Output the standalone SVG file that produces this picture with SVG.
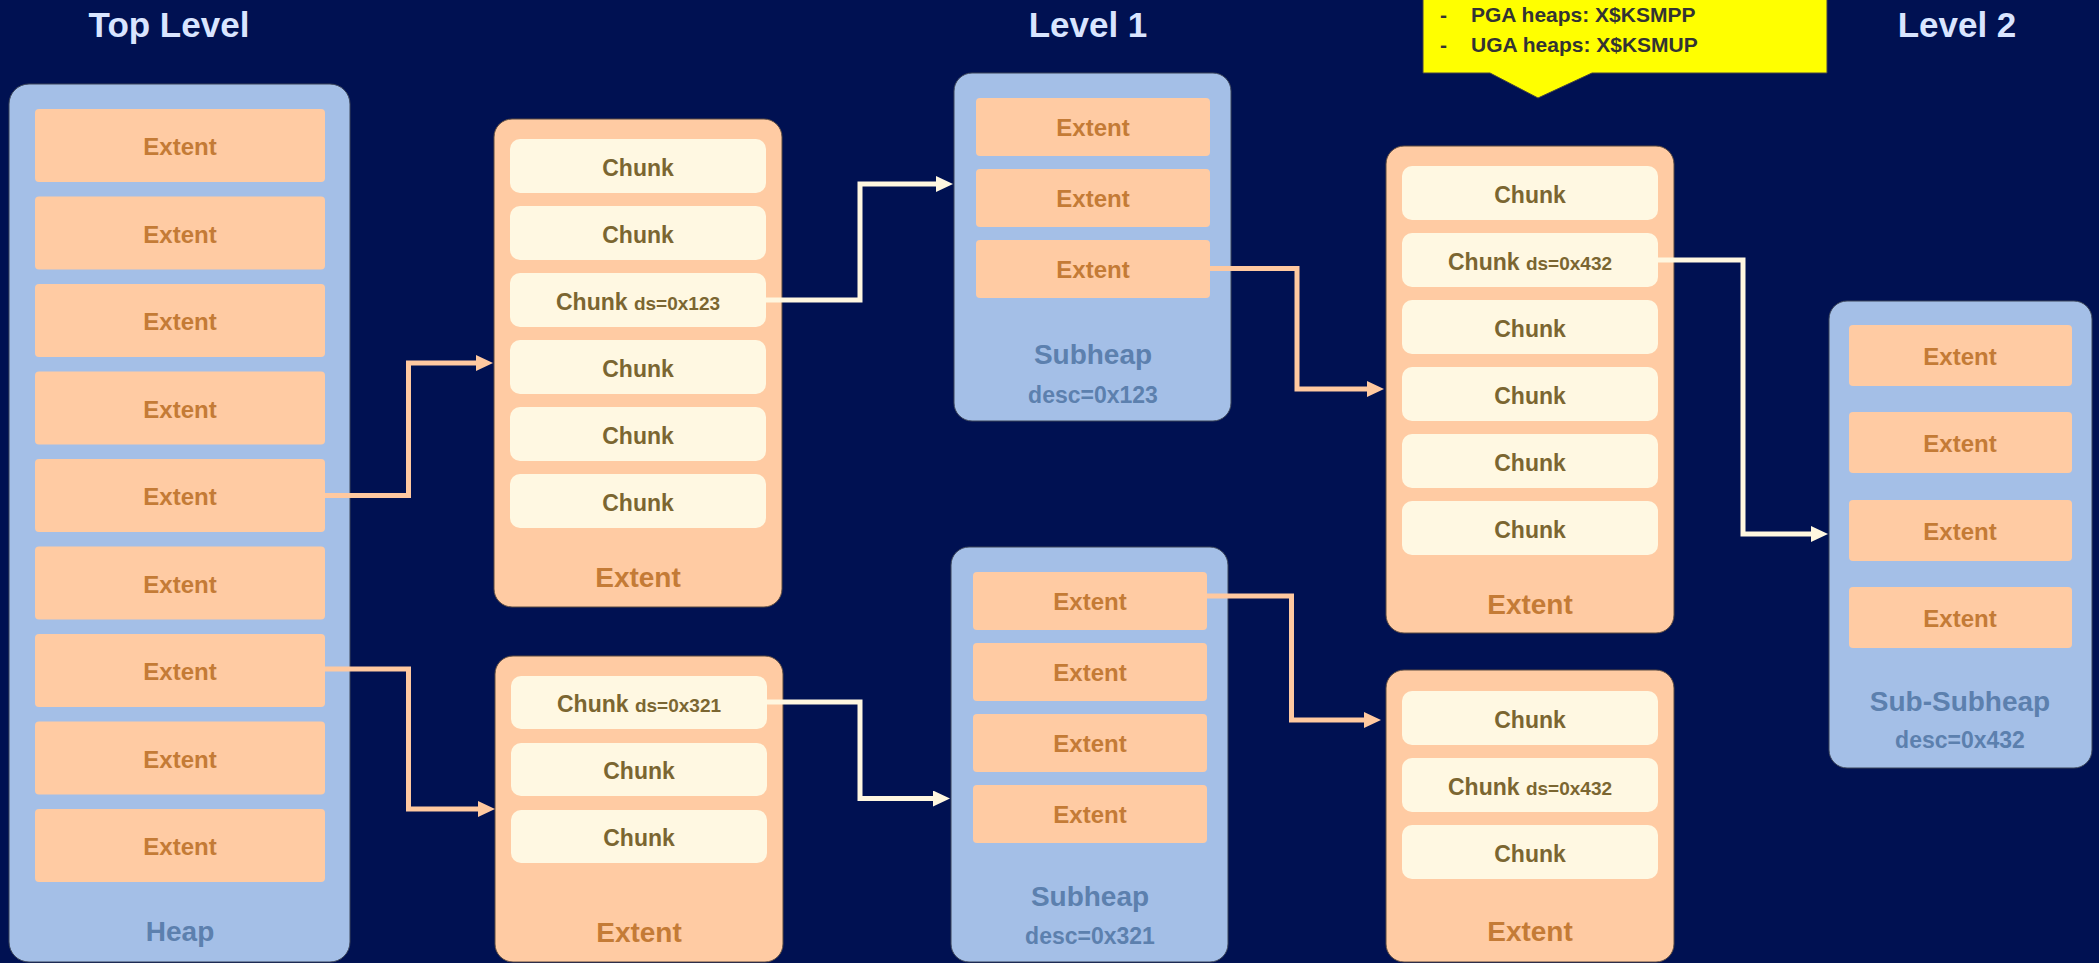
<svg xmlns="http://www.w3.org/2000/svg" width="2099" height="963" viewBox="0 0 2099 963">
<defs>
<style>
.bg{fill:#001152}
.title{font-family:"Liberation Sans",Arial,sans-serif;font-weight:bold;font-size:35px;fill:#D9E5FF;text-anchor:middle}
.heap{fill:#A4BFE7;stroke:#3a4458;stroke-width:1}
.ext{fill:#FFCBA3}
.ebox{fill:#FFCBA3;stroke:#5a4a40;stroke-width:1}
.chunk{fill:#FFF8E2}
.et{font-family:"Liberation Sans",Arial,sans-serif;font-weight:bold;font-size:24px;fill:#C47B36;text-anchor:middle}
.eb{font-family:"Liberation Sans",Arial,sans-serif;font-weight:bold;font-size:28px;fill:#C47B36;text-anchor:middle}
.ct{font-family:"Liberation Sans",Arial,sans-serif;font-weight:bold;font-size:23px;fill:#7B6631;text-anchor:middle}
.ds{font-size:19px}
.ht{font-family:"Liberation Sans",Arial,sans-serif;font-weight:bold;font-size:28px;fill:#5C80AE;text-anchor:middle}
.hd{font-family:"Liberation Sans",Arial,sans-serif;font-weight:bold;font-size:23px;fill:#5C80AE;text-anchor:middle}
.yt{font-family:"Liberation Sans",Arial,sans-serif;font-weight:bold;font-size:21px;fill:#333333}
.cp{fill:none;stroke:#FFC9A0;stroke-width:5}
.cw{fill:none;stroke:#FFF7E0;stroke-width:5}
</style>
<marker id="ap" markerUnits="userSpaceOnUse" markerWidth="17" markerHeight="16" refX="5" refY="8" orient="auto"><path d="M0,0 L17,8 L0,16 Z" fill="#FFC9A0"/></marker>
<marker id="aw" markerUnits="userSpaceOnUse" markerWidth="17" markerHeight="16" refX="5" refY="8" orient="auto"><path d="M0,0 L17,8 L0,16 Z" fill="#FFF7E0"/></marker>
</defs>
<rect class="bg" x="0" y="0" width="2099" height="963"/>

<g id="titles">
<text class="title" x="169" y="37">Top Level</text>
<text class="title" x="1088" y="37">Level 1</text>
<text class="title" x="1957" y="37">Level 2</text>
</g>

<g id="callout">
<path d="M1423,-2 H1827 V73 H1592 L1538,98 L1490,73 H1423 Z" fill="#FFFF00" stroke="#444444" stroke-width="1"/>
<text class="yt" x="1440" y="22">-</text>
<text class="yt" x="1471" y="22">PGA heaps: X$KSMPP</text>
<text class="yt" x="1440" y="52">-</text>
<text class="yt" x="1471" y="52">UGA heaps: X$KSMUP</text>
</g>

<g id="heap">
<rect class="heap" x="9" y="84" width="341" height="878" rx="20"/>
<rect class="ext" x="35" y="109" width="290" height="73" rx="4"/><text class="et" x="180" y="155">Extent</text>
<rect class="ext" x="35" y="196.5" width="290" height="73" rx="4"/><text class="et" x="180" y="242.5">Extent</text>
<rect class="ext" x="35" y="284" width="290" height="73" rx="4"/><text class="et" x="180" y="330">Extent</text>
<rect class="ext" x="35" y="371.5" width="290" height="73" rx="4"/><text class="et" x="180" y="417.5">Extent</text>
<rect class="ext" x="35" y="459" width="290" height="73" rx="4"/><text class="et" x="180" y="505">Extent</text>
<rect class="ext" x="35" y="546.5" width="290" height="73" rx="4"/><text class="et" x="180" y="592.5">Extent</text>
<rect class="ext" x="35" y="634" width="290" height="73" rx="4"/><text class="et" x="180" y="680">Extent</text>
<rect class="ext" x="35" y="721.5" width="290" height="73" rx="4"/><text class="et" x="180" y="767.5">Extent</text>
<rect class="ext" x="35" y="809" width="290" height="73" rx="4"/><text class="et" x="180" y="855">Extent</text>
<text class="ht" x="180" y="941">Heap</text>
</g>

<g id="extent-a">
<rect class="ebox" x="494" y="119" width="288" height="488" rx="18"/>
<rect class="chunk" x="510" y="139" width="256" height="54" rx="10"/><text class="ct" x="638" y="176">Chunk</text>
<rect class="chunk" x="510" y="206" width="256" height="54" rx="10"/><text class="ct" x="638" y="243">Chunk</text>
<rect class="chunk" x="510" y="273" width="256" height="54" rx="10"/><text class="ct" x="638" y="310">Chunk <tspan class="ds">ds=0x123</tspan></text>
<rect class="chunk" x="510" y="340" width="256" height="54" rx="10"/><text class="ct" x="638" y="377">Chunk</text>
<rect class="chunk" x="510" y="407" width="256" height="54" rx="10"/><text class="ct" x="638" y="444">Chunk</text>
<rect class="chunk" x="510" y="474" width="256" height="54" rx="10"/><text class="ct" x="638" y="511">Chunk</text>
<text class="eb" x="638" y="587">Extent</text>
</g>

<g id="extent-b">
<rect class="ebox" x="495" y="656" width="288" height="306" rx="18"/>
<rect class="chunk" x="511" y="676" width="256" height="53" rx="10"/><text class="ct" x="639" y="712">Chunk <tspan class="ds">ds=0x321</tspan></text>
<rect class="chunk" x="511" y="743" width="256" height="53" rx="10"/><text class="ct" x="639" y="779">Chunk</text>
<rect class="chunk" x="511" y="810" width="256" height="53" rx="10"/><text class="ct" x="639" y="846">Chunk</text>
<text class="eb" x="639" y="942">Extent</text>
</g>

<g id="subheap-a">
<rect class="heap" x="954" y="73" width="277" height="348" rx="18"/>
<rect class="ext" x="976" y="98" width="234" height="58" rx="4"/><text class="et" x="1093" y="136">Extent</text>
<rect class="ext" x="976" y="169" width="234" height="58" rx="4"/><text class="et" x="1093" y="207">Extent</text>
<rect class="ext" x="976" y="240" width="234" height="58" rx="4"/><text class="et" x="1093" y="278">Extent</text>
<text class="ht" x="1093" y="364">Subheap</text>
<text class="hd" x="1093" y="403">desc=0x123</text>
</g>

<g id="subheap-b">
<rect class="heap" x="951" y="547" width="277" height="415" rx="18"/>
<rect class="ext" x="973" y="572" width="234" height="58" rx="4"/><text class="et" x="1090" y="610">Extent</text>
<rect class="ext" x="973" y="643" width="234" height="58" rx="4"/><text class="et" x="1090" y="681">Extent</text>
<rect class="ext" x="973" y="714" width="234" height="58" rx="4"/><text class="et" x="1090" y="752">Extent</text>
<rect class="ext" x="973" y="785" width="234" height="58" rx="4"/><text class="et" x="1090" y="823">Extent</text>
<text class="ht" x="1090" y="906">Subheap</text>
<text class="hd" x="1090" y="944">desc=0x321</text>
</g>

<g id="extent-c">
<rect class="ebox" x="1386" y="146" width="288" height="487" rx="18"/>
<rect class="chunk" x="1402" y="166" width="256" height="54" rx="10"/><text class="ct" x="1530" y="203">Chunk</text>
<rect class="chunk" x="1402" y="233" width="256" height="54" rx="10"/><text class="ct" x="1530" y="270">Chunk <tspan class="ds">ds=0x432</tspan></text>
<rect class="chunk" x="1402" y="300" width="256" height="54" rx="10"/><text class="ct" x="1530" y="337">Chunk</text>
<rect class="chunk" x="1402" y="367" width="256" height="54" rx="10"/><text class="ct" x="1530" y="404">Chunk</text>
<rect class="chunk" x="1402" y="434" width="256" height="54" rx="10"/><text class="ct" x="1530" y="471">Chunk</text>
<rect class="chunk" x="1402" y="501" width="256" height="54" rx="10"/><text class="ct" x="1530" y="538">Chunk</text>
<text class="eb" x="1530" y="614">Extent</text>
</g>

<g id="extent-d">
<rect class="ebox" x="1386" y="670" width="288" height="292" rx="18"/>
<rect class="chunk" x="1402" y="691" width="256" height="54" rx="10"/><text class="ct" x="1530" y="728">Chunk</text>
<rect class="chunk" x="1402" y="758" width="256" height="54" rx="10"/><text class="ct" x="1530" y="795">Chunk <tspan class="ds">ds=0x432</tspan></text>
<rect class="chunk" x="1402" y="825" width="256" height="54" rx="10"/><text class="ct" x="1530" y="862">Chunk</text>
<text class="eb" x="1530" y="941">Extent</text>
</g>

<g id="sub-subheap">
<rect class="heap" x="1829" y="301" width="263" height="467" rx="18"/>
<rect class="ext" x="1849" y="325" width="223" height="61" rx="4"/><text class="et" x="1960" y="365">Extent</text>
<rect class="ext" x="1849" y="412" width="223" height="61" rx="4"/><text class="et" x="1960" y="452">Extent</text>
<rect class="ext" x="1849" y="500" width="223" height="61" rx="4"/><text class="et" x="1960" y="540">Extent</text>
<rect class="ext" x="1849" y="587" width="223" height="61" rx="4"/><text class="et" x="1960" y="627">Extent</text>
<text class="ht" x="1960" y="711">Sub-Subheap</text>
<text class="hd" x="1960" y="748">desc=0x432</text>
</g>

<g id="connectors">
<path class="cp" d="M325,495.5 H408.5 V363 H481" marker-end="url(#ap)"/>
<path class="cp" d="M325,669 H408.5 V809 H483" marker-end="url(#ap)"/>
<path class="cw" d="M766,300 H860 V184 H941" marker-end="url(#aw)"/>
<path class="cp" d="M1210,268.5 H1297 V389 H1372" marker-end="url(#ap)"/>
<path class="cw" d="M767,702 H860 V798.5 H938" marker-end="url(#aw)"/>
<path class="cp" d="M1207,596 H1291.5 V720 H1369" marker-end="url(#ap)"/>
<path class="cw" d="M1658,260 H1743 V534 H1816" marker-end="url(#aw)"/>
</g>
</svg>
